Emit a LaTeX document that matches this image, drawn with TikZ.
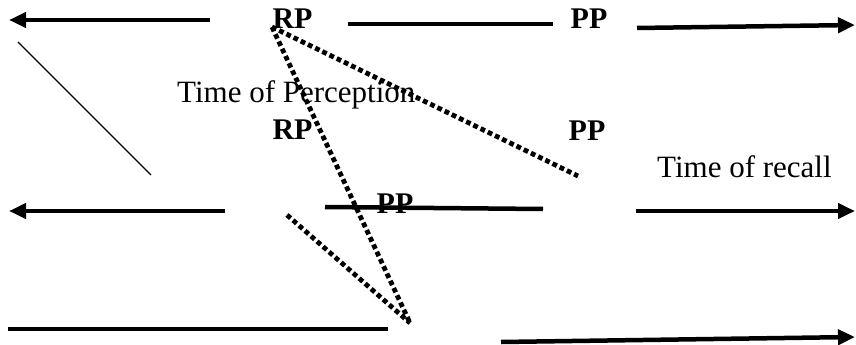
\documentclass[tikz,border=0pt]{standalone}
\usepackage{fontspec}
\setmainfont{Liberation Serif}
\usetikzlibrary{arrows.meta}
\begin{document}
\begin{tikzpicture}[x=1pt,y=-1pt,
  bar/.style={line width=4.5pt},
  arr/.style={line width=4.5pt,-{Triangle[length=17pt,width=15pt]}},
  dotline/.style={line width=4.8pt,dash pattern=on 4.8pt off 3.2pt},
  thin/.style={line width=1.3pt},
  lbl/.style={font=\fontsize{30}{30}\selectfont\bfseries,inner sep=0pt,anchor=base},
  txt/.style={font=\fontsize{31}{31}\selectfont,inner sep=0pt,anchor=base west}]
\useasboundingbox (0,0) rectangle (856,345);
% coordinates
\coordinate (tlA) at (210,20);   \coordinate (tlB) at (9,20);
\coordinate (tmA) at (348,24);   \coordinate (tmB) at (553,24);
\coordinate (trA) at (637,28);   \coordinate (trB) at (855,25);
\coordinate (thA) at (18,42);    \coordinate (thB) at (151,175);
\coordinate (mlA) at (225,211);  \coordinate (mlB) at (9,211);
\coordinate (mmA) at (325,207);  \coordinate (mmB) at (543,209);
\coordinate (mrA) at (636,211);  \coordinate (mrB) at (855,211);
\coordinate (blA) at (8,329);    \coordinate (blB) at (388,329);
\coordinate (brA) at (501,342);  \coordinate (brB) at (855,337);
\coordinate (d0) at (272,27);
\coordinate (d1) at (578,176);
\coordinate (d2) at (410,323);
\coordinate (d3) at (287,215);
% lines
\draw[arr] (tlA) -- (tlB);
\draw[bar] (tmA) -- (tmB);
\draw[arr] (trA) -- (trB);
\draw[thin] (thA) -- (thB);
\draw[arr] (mlA) -- (mlB);
\draw[arr] (mrA) -- (mrB);
\draw[bar] (blA) -- (blB);
\draw[arr] (brA) -- (brB);
% labels
\node[lbl] (rp1) at (292.5,29) {RP};
\node[lbl] (pp1) at (589,29) {PP};
\node[txt] (tp) at (177,102) {Time of Perception};
\node[lbl] (rp2) at (292.5,139) {RP};
\node[lbl] (pp2) at (587,140) {PP};
\node[txt] (tr) at (657,177) {Time of recall};
\node[lbl] (pp3) at (395,213) {PP};
\draw[bar] (mmA) -- (mmB);
% dotted
\draw[dotline] (d0) -- (d1);
\draw[dotline] (d0) -- (d2);
\draw[dotline] (d3) -- (d2);
\end{tikzpicture}
\end{document}
